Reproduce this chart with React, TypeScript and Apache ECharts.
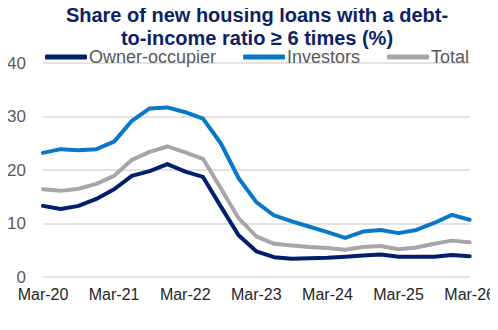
import React, { useEffect, useRef } from "react";
import * as echarts from "echarts";

const categories = [
  "Mar-20", "Jun-20", "Sep-20", "Dec-20",
  "Mar-21", "Jun-21", "Sep-21", "Dec-21",
  "Mar-22", "Jun-22", "Sep-22", "Dec-22",
  "Mar-23", "Jun-23", "Sep-23", "Dec-23",
  "Mar-24", "Jun-24", "Sep-24", "Dec-24",
  "Mar-25", "Jun-25", "Sep-25", "Dec-25",
  "Mar-26",
];

const ownerOccupier = [
  13.3, 12.7, 13.3, 14.6, 16.4, 18.9, 19.8, 21.1,
  19.7, 18.7, 13.2, 7.8, 4.8, 3.7, 3.4, 3.5,
  3.6, 3.8, 4.0, 4.2, 3.8, 3.8, 3.8, 4.1, 3.9,
];

const investors = [
  23.2, 23.9, 23.7, 23.9, 25.3, 29.2, 31.5, 31.7,
  30.8, 29.6, 25.0, 18.5, 14.0, 11.5, 10.4, 9.4,
  8.4, 7.3, 8.5, 8.8, 8.2, 8.8, 10.1, 11.6, 10.7,
];

const total = [
  16.4, 16.1, 16.5, 17.4, 18.9, 21.9, 23.4, 24.4,
  23.3, 22.1, 16.6, 11.0, 7.6, 6.2, 5.9, 5.6,
  5.4, 5.1, 5.6, 5.8, 5.2, 5.5, 6.2, 6.8, 6.5,
];

const yTicks = { min: 0, max: 40, interval: 10 };

const titleLines = "Share of new housing loans with a debt-\nto-income ratio ≥ 6 times (%)";

export default function App() {
  const ref = useRef<HTMLDivElement>(null);
  useEffect(() => {
    if (!ref.current) return;
    const chart = echarts.init(ref.current, null, { renderer: "svg" });
    const font = "Liberation Sans, Arial, sans-serif";
    const mk = (name: string, data: number[], color: string) => ({
      name,
      type: "line",
      data,
      symbol: "none",
      lineStyle: { width: 4, color, cap: "round", join: "round" },
      itemStyle: { color },
      z: 3,
    });
    chart.setOption({
      animation: false,
      graphic: [
        {
          type: "text",
          x: 257,
          y: 3,
          style: {
            text: titleLines,
            textAlign: "center",
            textVerticalAlign: "top",
            font: `bold 20px ${font}`,
            lineHeight: 23,
            fill: "#0d2265",
          },
        },
      ],
      legend: {
        left: 40,
        top: 43,
        itemWidth: 42,
        itemHeight: 5,
        itemGap: 27,
        icon: "roundRect",
        textStyle: { color: "#595959", fontSize: 18, fontFamily: font, padding: [0, 0, 0, -3] },
        data: ["Owner-occupier", "Investors", "Total"],
      },
      grid: { left: 43, right: 24, top: 63, bottom: 53 },
      xAxis: {
        type: "category",
        data: categories,
        boundaryGap: false,
        axisLine: { show: false },
        axisTick: { show: false },
        axisLabel: {
          interval: 3,
          color: "#262626",
          fontSize: 16,
          fontFamily: font,
          margin: 9,
          showMaxLabel: true,
        },
      },
      yAxis: {
        type: "value",
        min: yTicks.min,
        max: yTicks.max,
        interval: yTicks.interval,
        axisLine: { show: false },
        axisTick: { show: false },
        axisLabel: { color: "#595959", fontSize: 17, fontFamily: font, margin: 17 },
        splitLine: { lineStyle: { color: "#d9d9d9", width: 1.5 } },
      },
      series: [
        mk("Owner-occupier", ownerOccupier, "#00206b"),
        mk("Investors", investors, "#0a78c8"),
        mk("Total", total, "#a6a6a6"),
      ],
    });
    return () => chart.dispose();
  }, []);
  return <div ref={ref} style={{ width: 498, height: 330, margin: -8 }} />;
}
